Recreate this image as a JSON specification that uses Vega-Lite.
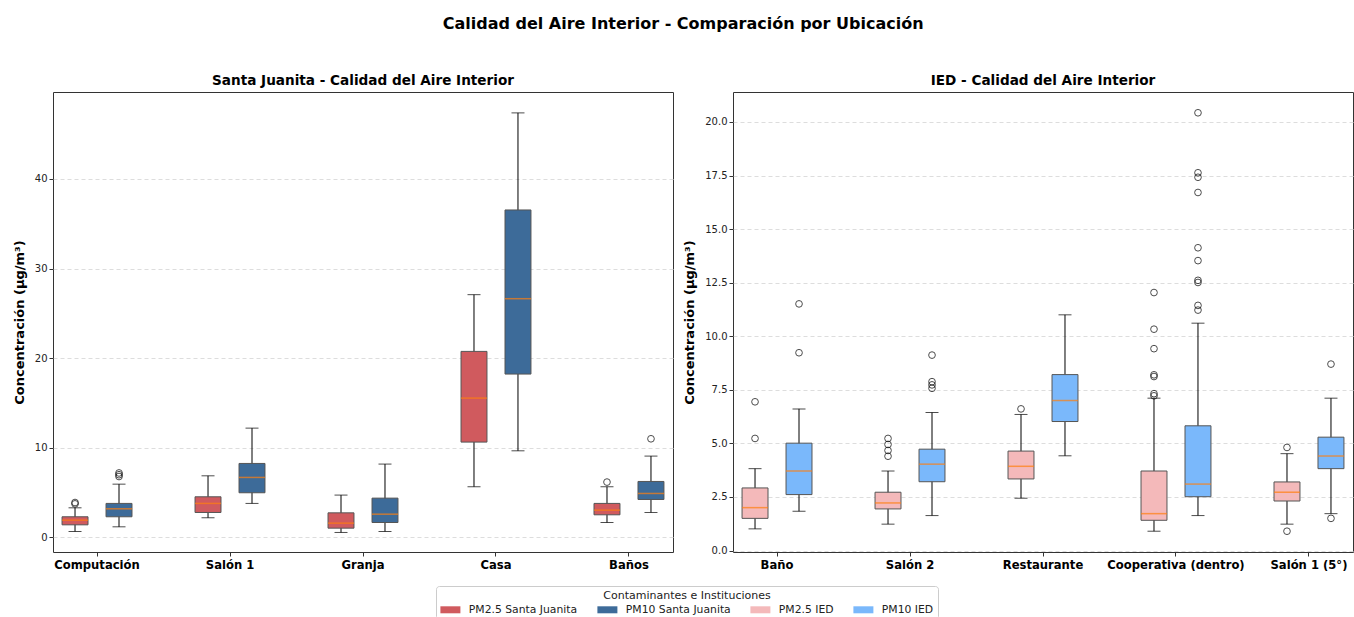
{
  "$schema": "https://vega.github.io/schema/vega-lite/v6.json",
  "background": "white",
  "padding": {"left": 12, "top": 15, "right": 0, "bottom": 0},
  "config": {
    "font": "DejaVu Sans",
    "view": {"stroke": "#333333", "strokeWidth": 1},
    "axis": {"domain": false, "tickColor": "#333333", "tickSize": 4, "labelColor": "#222222", "labelFont": "DejaVu Sans", "titleFont": "DejaVu Sans"},
    "title": {"font": "DejaVu Sans", "fontWeight": "bold", "color": "black"},
    "concat": {"spacing": 9}
  },
  "title": {"text": "Calidad del Aire Interior - Comparación por Ubicación", "fontSize": 16, "anchor": "middle", "offset": 42},
  "datasets": {
    "sj_box": [
      {"ubicacion": "Computación", "pm": "PM2.5", "serie": "PM2.5 Santa Juanita", "low": 0.67, "q1": 1.41, "median": 1.93, "q3": 2.31, "high": 3.31},
      {"ubicacion": "Computación", "pm": "PM10", "serie": "PM10 Santa Juanita", "low": 1.19, "q1": 2.31, "median": 3.2, "q3": 3.8, "high": 5.95},
      {"ubicacion": "Salón 1", "pm": "PM2.5", "serie": "PM2.5 Santa Juanita", "low": 2.2, "q1": 2.79, "median": 3.8, "q3": 4.54, "high": 6.88},
      {"ubicacion": "Salón 1", "pm": "PM10", "serie": "PM10 Santa Juanita", "low": 3.8, "q1": 4.99, "median": 6.7, "q3": 8.26, "high": 12.2},
      {"ubicacion": "Granja", "pm": "PM2.5", "serie": "PM2.5 Santa Juanita", "low": 0.56, "q1": 1.04, "median": 1.6, "q3": 2.75, "high": 4.73},
      {"ubicacion": "Granja", "pm": "PM10", "serie": "PM10 Santa Juanita", "low": 0.67, "q1": 1.67, "median": 2.6, "q3": 4.39, "high": 8.19},
      {"ubicacion": "Casa", "pm": "PM2.5", "serie": "PM2.5 Santa Juanita", "low": 5.66, "q1": 10.64, "median": 15.55, "q3": 20.76, "high": 27.09},
      {"ubicacion": "Casa", "pm": "PM10", "serie": "PM10 Santa Juanita", "low": 9.67, "q1": 18.23, "median": 26.64, "q3": 36.54, "high": 47.37},
      {"ubicacion": "Baños", "pm": "PM2.5", "serie": "PM2.5 Santa Juanita", "low": 1.67, "q1": 2.53, "median": 3.05, "q3": 3.8, "high": 5.66},
      {"ubicacion": "Baños", "pm": "PM10", "serie": "PM10 Santa Juanita", "low": 2.79, "q1": 4.24, "median": 4.91, "q3": 6.25, "high": 9.08}
    ],
    "sj_out": [
      {"ubicacion": "Computación", "pm": "PM2.5", "valor": 3.9},
      {"ubicacion": "Computación", "pm": "PM2.5", "valor": 3.75},
      {"ubicacion": "Computación", "pm": "PM10", "valor": 7.2},
      {"ubicacion": "Computación", "pm": "PM10", "valor": 7.0},
      {"ubicacion": "Computación", "pm": "PM10", "valor": 6.8},
      {"ubicacion": "Baños", "pm": "PM2.5", "valor": 6.18},
      {"ubicacion": "Baños", "pm": "PM10", "valor": 11.01}
    ],
    "ied_box": [
      {"ubicacion": "Baño", "pm": "PM2.5", "serie": "PM2.5 IED", "low": 1.01, "q1": 1.5, "median": 2.0, "q3": 2.92, "high": 3.82},
      {"ubicacion": "Baño", "pm": "PM10", "serie": "PM10 IED", "low": 1.83, "q1": 2.61, "median": 3.71, "q3": 5.01, "high": 6.61},
      {"ubicacion": "Salón 2", "pm": "PM2.5", "serie": "PM2.5 IED", "low": 1.23, "q1": 1.94, "median": 2.22, "q3": 2.72, "high": 3.71},
      {"ubicacion": "Salón 2", "pm": "PM10", "serie": "PM10 IED", "low": 1.63, "q1": 3.21, "median": 4.03, "q3": 4.73, "high": 6.44},
      {"ubicacion": "Restaurante", "pm": "PM2.5", "serie": "PM2.5 IED", "low": 2.44, "q1": 3.34, "median": 3.93, "q3": 4.64, "high": 6.35},
      {"ubicacion": "Restaurante", "pm": "PM10", "serie": "PM10 IED", "low": 4.42, "q1": 6.02, "median": 7.0, "q3": 8.21, "high": 11.0},
      {"ubicacion": "Cooperativa (dentro)", "pm": "PM2.5", "serie": "PM2.5 IED", "low": 0.9, "q1": 1.41, "median": 1.72, "q3": 3.71, "high": 7.11},
      {"ubicacion": "Cooperativa (dentro)", "pm": "PM10", "serie": "PM10 IED", "low": 1.63, "q1": 2.51, "median": 3.1, "q3": 5.82, "high": 10.61},
      {"ubicacion": "Salón 1 (5°)", "pm": "PM2.5", "serie": "PM2.5 IED", "low": 1.23, "q1": 2.31, "median": 2.72, "q3": 3.2, "high": 4.52},
      {"ubicacion": "Salón 1 (5°)", "pm": "PM10", "serie": "PM10 IED", "low": 1.72, "q1": 3.82, "median": 4.41, "q3": 5.29, "high": 7.11}
    ],
    "ied_out": [
      {"ubicacion": "Baño", "pm": "PM2.5", "valor": 5.23},
      {"ubicacion": "Baño", "pm": "PM2.5", "valor": 6.94},
      {"ubicacion": "Baño", "pm": "PM10", "valor": 9.23},
      {"ubicacion": "Baño", "pm": "PM10", "valor": 11.51},
      {"ubicacion": "Salón 2", "pm": "PM2.5", "valor": 4.4},
      {"ubicacion": "Salón 2", "pm": "PM2.5", "valor": 4.67},
      {"ubicacion": "Salón 2", "pm": "PM2.5", "valor": 4.95},
      {"ubicacion": "Salón 2", "pm": "PM2.5", "valor": 5.23},
      {"ubicacion": "Salón 2", "pm": "PM10", "valor": 7.57},
      {"ubicacion": "Salón 2", "pm": "PM10", "valor": 7.73},
      {"ubicacion": "Salón 2", "pm": "PM10", "valor": 7.88},
      {"ubicacion": "Salón 2", "pm": "PM10", "valor": 9.12},
      {"ubicacion": "Restaurante", "pm": "PM2.5", "valor": 6.61},
      {"ubicacion": "Cooperativa (dentro)", "pm": "PM2.5", "valor": 7.22},
      {"ubicacion": "Cooperativa (dentro)", "pm": "PM2.5", "valor": 7.32},
      {"ubicacion": "Cooperativa (dentro)", "pm": "PM2.5", "valor": 8.12},
      {"ubicacion": "Cooperativa (dentro)", "pm": "PM2.5", "valor": 8.2},
      {"ubicacion": "Cooperativa (dentro)", "pm": "PM2.5", "valor": 9.42},
      {"ubicacion": "Cooperativa (dentro)", "pm": "PM2.5", "valor": 10.33},
      {"ubicacion": "Cooperativa (dentro)", "pm": "PM2.5", "valor": 12.04},
      {"ubicacion": "Cooperativa (dentro)", "pm": "PM10", "valor": 11.22},
      {"ubicacion": "Cooperativa (dentro)", "pm": "PM10", "valor": 11.44},
      {"ubicacion": "Cooperativa (dentro)", "pm": "PM10", "valor": 12.51},
      {"ubicacion": "Cooperativa (dentro)", "pm": "PM10", "valor": 12.61},
      {"ubicacion": "Cooperativa (dentro)", "pm": "PM10", "valor": 13.53},
      {"ubicacion": "Cooperativa (dentro)", "pm": "PM10", "valor": 14.13},
      {"ubicacion": "Cooperativa (dentro)", "pm": "PM10", "valor": 16.71},
      {"ubicacion": "Cooperativa (dentro)", "pm": "PM10", "valor": 17.42},
      {"ubicacion": "Cooperativa (dentro)", "pm": "PM10", "valor": 17.63},
      {"ubicacion": "Cooperativa (dentro)", "pm": "PM10", "valor": 20.43},
      {"ubicacion": "Salón 1 (5°)", "pm": "PM2.5", "valor": 4.81},
      {"ubicacion": "Salón 1 (5°)", "pm": "PM2.5", "valor": 0.9},
      {"ubicacion": "Salón 1 (5°)", "pm": "PM10", "valor": 8.7},
      {"ubicacion": "Salón 1 (5°)", "pm": "PM10", "valor": 1.5}
    ]
  },
  "hconcat": [
    {
      "width": 620,
      "height": 460,
      "title": {"text": "Santa Juanita - Calidad del Aire Interior", "fontSize": 13.6, "offset": 4},
      "data": {"name": "sj_box"},
      "encoding": {
        "x": {"field": "ubicacion", "type": "nominal", "sort": ["Computación", "Salón 1", "Granja", "Casa", "Baños"], "scale": {"paddingInner": 0.4, "paddingOuter": 0.031}, "axis": {"title": null, "labelAngle": 0, "labelFontWeight": "bold", "labelFontSize": 11.6, "labelColor": "black", "grid": false, "labelPadding": 3}},
        "xOffset": {"field": "pm", "type": "nominal", "sort": ["PM2.5", "PM10"], "scale": {"paddingInner": 0.41, "paddingOuter": 0.112}}
      },
      "layer": [
        {"mark": {"type": "rule", "color": "black", "strokeWidth": 1}, "encoding": {"y": {"field": "low", "type": "quantitative", "scale": {"domain": [-1.62, 49.7], "nice": false, "zero": false}, "axis": {"title": "Concentración (μg/m³)", "values": [0, 10, 20, 30, 40], "grid": true, "gridDash": [4, 3], "gridColor": "#dddddd", "labelFontSize": 10, "titleFontSize": 13, "titleFontWeight": "bold", "titleColor": "black", "titlePadding": 8}}, "y2": {"field": "high"}}},
        {"mark": {"type": "tick", "color": "black", "size": 13, "thickness": 1}, "encoding": {"y": {"field": "low", "type": "quantitative"}}},
        {"mark": {"type": "tick", "color": "black", "size": 13, "thickness": 1}, "encoding": {"y": {"field": "high", "type": "quantitative"}}},
        {"mark": {"type": "bar", "stroke": "#555555", "strokeWidth": 1}, "encoding": {"y": {"field": "q1", "type": "quantitative"}, "y2": {"field": "q3"}, "color": {"field": "serie", "type": "nominal", "scale": {"domain": ["PM2.5 Santa Juanita", "PM10 Santa Juanita", "PM2.5 IED", "PM10 IED"], "range": ["#d05a5e", "#3d6b99", "#f4b9ba", "#7ab8fb"]}, "legend": {"title": "Contaminantes e Instituciones", "orient": "none", "legendX": 383, "legendY": 494, "direction": "horizontal", "columns": 4, "titleAnchor": "middle", "titleFontWeight": "normal", "titleFontSize": 11, "titleColor": "#222222", "titlePadding": 3, "labelFontSize": 10.8, "labelColor": "#222222", "symbolType": "M-2,-0.7L2,-0.7L2,0.7L-2,0.7Z", "symbolSize": 100, "symbolStrokeWidth": 0, "symbolOffset": 5, "strokeColor": "#cccccc", "padding": 4, "cornerRadius": 3, "columnPadding": 19, "labelOffset": 13}}}},
        {"mark": {"type": "tick", "color": "#ff7f0e", "size": 26, "thickness": 1.5}, "encoding": {"y": {"field": "median", "type": "quantitative"}}},
        {"data": {"name": "sj_out"}, "mark": {"type": "point", "shape": "circle", "filled": false, "stroke": "black", "size": 45, "strokeWidth": 1}, "encoding": {"y": {"field": "valor", "type": "quantitative"}}}
      ]
    },
    {
      "width": 620,
      "height": 460,
      "title": {"text": "IED - Calidad del Aire Interior", "fontSize": 13.6, "offset": 4},
      "data": {"name": "ied_box"},
      "encoding": {
        "x": {"field": "ubicacion", "type": "nominal", "sort": ["Baño", "Salón 2", "Restaurante", "Cooperativa (dentro)", "Salón 1 (5°)"], "scale": {"paddingInner": 0.4, "paddingOuter": 0.031}, "axis": {"title": null, "labelAngle": 0, "labelFontWeight": "bold", "labelFontSize": 11.6, "labelColor": "black", "grid": false, "labelPadding": 3}},
        "xOffset": {"field": "pm", "type": "nominal", "sort": ["PM2.5", "PM10"], "scale": {"paddingInner": 0.41, "paddingOuter": 0.112}}
      },
      "layer": [
        {"mark": {"type": "rule", "color": "black", "strokeWidth": 1}, "encoding": {"y": {"field": "low", "type": "quantitative", "scale": {"domain": [-0.07, 21.4], "nice": false, "zero": false}, "axis": {"title": "Concentración (μg/m³)", "values": [0, 2.5, 5, 7.5, 10, 12.5, 15, 17.5, 20], "format": ".1f", "grid": true, "gridDash": [4, 3], "gridColor": "#dddddd", "labelFontSize": 10, "titleFontSize": 13, "titleFontWeight": "bold", "titleColor": "black", "titlePadding": 8}}, "y2": {"field": "high"}}},
        {"mark": {"type": "tick", "color": "black", "size": 13, "thickness": 1}, "encoding": {"y": {"field": "low", "type": "quantitative"}}},
        {"mark": {"type": "tick", "color": "black", "size": 13, "thickness": 1}, "encoding": {"y": {"field": "high", "type": "quantitative"}}},
        {"mark": {"type": "bar", "stroke": "#555555", "strokeWidth": 1}, "encoding": {"y": {"field": "q1", "type": "quantitative"}, "y2": {"field": "q3"}, "color": {"field": "serie", "type": "nominal", "scale": {"domain": ["PM2.5 Santa Juanita", "PM10 Santa Juanita", "PM2.5 IED", "PM10 IED"], "range": ["#d05a5e", "#3d6b99", "#f4b9ba", "#7ab8fb"]}}}},
        {"mark": {"type": "tick", "color": "#ff7f0e", "size": 26, "thickness": 1.5}, "encoding": {"y": {"field": "median", "type": "quantitative"}}},
        {"data": {"name": "ied_out"}, "mark": {"type": "point", "shape": "circle", "filled": false, "stroke": "black", "size": 45, "strokeWidth": 1}, "encoding": {"y": {"field": "valor", "type": "quantitative"}}}
      ]
    }
  ]
}
